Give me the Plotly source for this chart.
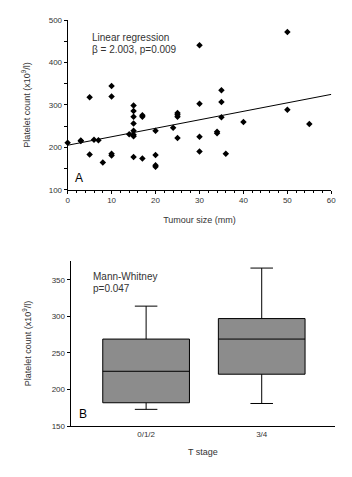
import plotly.graph_objects as go

# ---- Panel A data ----
tumour_size = [0, 3, 3, 5, 5, 6, 7, 8, 10, 10, 10, 10, 14, 15, 15, 15, 15, 15, 15, 15, 15,
               17, 17, 17, 20, 20, 20, 20, 24, 25, 25, 25, 25, 30, 30, 30, 30, 34, 34,
               35, 35, 35, 36, 40, 50, 50, 55]
platelet_count = [211, 215, 216, 183, 318, 218, 217, 164, 185, 181, 345, 320, 231, 299, 286,
                  272, 256, 239, 226, 230, 177, 272, 276, 174, 239, 182, 154, 158, 246, 272,
                  277, 281, 222, 303, 225, 190, 441, 233, 237, 271, 335, 307, 185, 260, 289,
                  472, 255]
reg_x = [0, 60]
reg_y = [205, 325]

# ---- Panel B data ----
t_stage = ["0/1/2", "3/4"]
q1 = [182, 221]
median = [225, 269]
q3 = [269, 297]
lower_whisker = [173, 181]
upper_whisker = [314, 366]

TXT = "#333333"
FONT = "Liberation Sans, Arial, sans-serif"

fig = go.Figure()

fig.add_trace(go.Scatter(
    x=tumour_size, y=platelet_count, mode="markers",
    marker=dict(symbol="diamond", size=5, color="black"),
    xaxis="x", yaxis="y", showlegend=False, cliponaxis=False))
fig.add_trace(go.Scatter(
    x=reg_x, y=reg_y, mode="lines", line=dict(color="black", width=1),
    xaxis="x", yaxis="y", showlegend=False))

fig.add_trace(go.Box(
    x=t_stage, q1=q1, median=median, q3=q3,
    lowerfence=lower_whisker, upperfence=upper_whisker,
    fillcolor="#8c8c8c", line=dict(color="black", width=1),
    width=0.75, whiskerwidth=0.26, boxpoints=False,
    xaxis="x2", yaxis="y2", showlegend=False))

axis_common = dict(showline=True, linecolor="black", linewidth=1, showgrid=False,
                   zeroline=False, ticks="outside", tickcolor="black",
                   tickfont=dict(size=8, color=TXT, family=FONT))

fig.update_layout(
    width=352, height=477,
    margin=dict(l=0, r=0, t=0, b=0),
    paper_bgcolor="white", plot_bgcolor="white",
    font=dict(family=FONT, color=TXT),
    xaxis=dict(domain=[0.1903, 0.9545], anchor="y", range=[0, 60],
               tickmode="linear", tick0=0, dtick=10, ticklen=3,
               minor=dict(dtick=2, ticks="outside", ticklen=2, tickcolor="black"),
               title=dict(text="Tumour size (mm)", font=dict(size=9, color=TXT), standoff=12),
               **axis_common),
    yaxis=dict(domain=[0.6031, 0.9654], anchor="x", range=[100, 500],
               tickmode="linear", tick0=100, dtick=100, ticklen=3,
               minor=dict(dtick=50, ticks="outside", ticklen=3, tickcolor="black"),
               title=dict(text="Platelet count (x10<sup>9</sup>/l)", font=dict(size=9, color=TXT), standoff=16),
               **axis_common),
    xaxis2=dict(domain=[0.1989, 0.9659], anchor="y2", range=[-0.653, 1.636],
                type="category", ticklen=0,
                title=dict(text="T stage", font=dict(size=9, color=TXT), standoff=10),
                **{k: v for k, v in axis_common.items() if k != "ticks"}),
    yaxis2=dict(domain=[0.0979, 0.4514], anchor="x2", range=[150, 376],
                tickmode="linear", tick0=150, dtick=50, ticklen=3,
                title=dict(text="Platelet count (x10<sup>9</sup>/l)", font=dict(size=9, color=TXT), standoff=18),
                **axis_common),
)

ann = [
    dict(text="Linear regression", x=90, y=34, size=10),
    dict(text="β = 2.003, p=0.009", x=90, y=46, size=10),
    dict(text="Mann-Whitney", x=91, y=278, size=10),
    dict(text="p=0.047", x=91, y=290, size=10),
]
for a in ann:
    fig.add_annotation(text=a["text"], xref="paper", yref="paper",
                       x=a["x"] / 352, y=1 - a["y"] / 477, xanchor="left", yanchor="middle",
                       showarrow=False, font=dict(size=a["size"], color=TXT, family=FONT))
for letter, lx, ly in [("A", 79, 177), ("B", 83, 418)]:
    fig.add_annotation(text=letter, xref="paper", yref="paper",
                       x=lx / 352, y=1 - ly / 477, xanchor="center", yanchor="middle",
                       showarrow=False, font=dict(size=12, color="black", family=FONT))

fig.write_html("out.html", config={"displayModeBar": False},
               post_script="document.body.style.margin='0';")
